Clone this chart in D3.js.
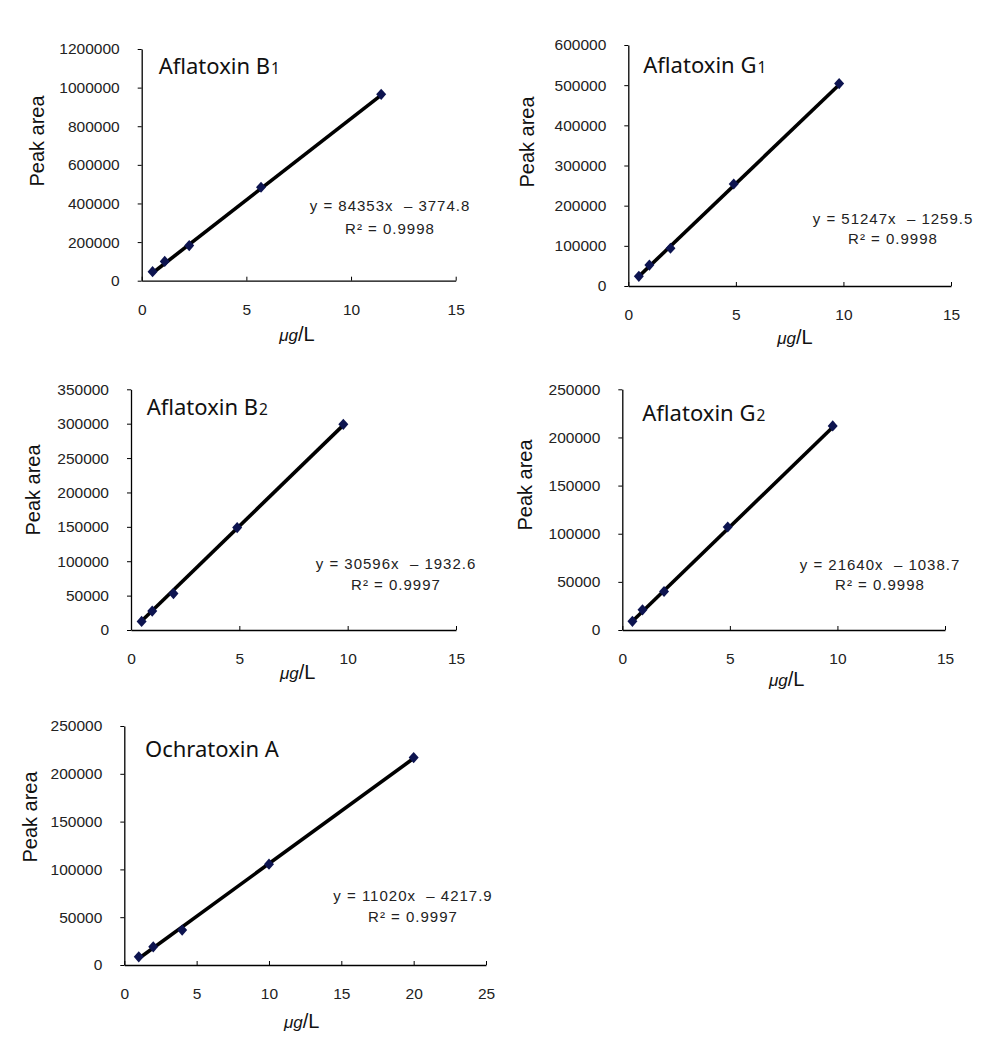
<!DOCTYPE html>
<html>
<head>
<meta charset="utf-8">
<script src="https://cdn.jsdelivr.net/npm/d3@7"></script>
<style>
  html, body { margin: 0; padding: 0; background: #fff; }
  svg { display: block; }
  .tick text { font-family: "Liberation Sans", Arial, sans-serif; font-size: 15.5px; fill: #222; }
</style>
</head>
<body>
<svg id="chart" width="1006" height="1042"></svg>
<script>
// ---------- data ----------
const titles      = ["Aflatoxin B", "Aflatoxin G", "Aflatoxin B", "Aflatoxin G", "Ochratoxin A"];
const titleSubs   = ["1", "1", "2", "2", ""];
const equations   = ["y = 84353x  \u2013 3774.8", "y = 51247x  \u2013 1259.5", "y = 30596x  \u2013 1932.6", "y = 21640x  \u2013 1038.7", "y = 11020x  \u2013 4217.9"];
const r2Labels    = ["R\u00B2 = 0.9998", "R\u00B2 = 0.9998", "R\u00B2 = 0.9997", "R\u00B2 = 0.9998", "R\u00B2 = 0.9997"];
const slopes      = [84353, 51247, 30596, 21640, 11020];
const intercepts  = [-3774.8, -1259.5, -1932.6, -1038.7, -4217.9];

const xB1 = [0.52, 1.1, 2.27, 5.7, 11.44];
const yB1 = [47000, 100000, 182000, 484000, 965000];
const xG1 = [0.49, 0.98, 1.96, 4.9, 9.8];
const yG1 = [24000, 52000, 94000, 254000, 504000];
const xB2 = [0.49, 0.98, 1.96, 4.9, 9.8];
const yB2 = [12500, 27500, 53000, 149000, 299000];
const xG2 = [0.47, 0.94, 1.94, 4.9, 9.78];
const yG2 = [9000, 21000, 40000, 107000, 212000];
const xOTA = [1, 2, 4, 10, 20];
const yOTA = [8500, 19000, 36500, 105500, 217000];
const xSeries = [xB1, xG1, xB2, xG2, xOTA];
const ySeries = [yB1, yG1, yB2, yG2, yOTA];

const xMaxes  = [15, 15, 15, 15, 25];
const xTicks  = [[0,5,10,15],[0,5,10,15],[0,5,10,15],[0,5,10,15],[0,5,10,15,20,25]];
const yMaxes  = [1200000, 600000, 350000, 250000, 250000];
const yStep   = [200000, 100000, 50000, 50000, 50000];
const yAxisLabel = "Peak area";
const xAxisUnit1 = "\u03BCg";
const xAxisUnit2 = "/L";

// ---------- layout (pixel geometry of each panel) ----------
const layout = [
  {l:141.7, r:455.7, t:49,    b:280.7, tx:17,   ty:25, py:141, px:37,  ux:297,   uy:341, ex:390, ey:206, ry:229},
  {l:628.3, r:951,   t:45,    b:286,   tx:15,   ty:28, py:142, px:527, ux:795,   uy:344, ex:893, ey:219, ry:239},
  {l:131,   r:456,   t:389.3, b:630,   tx:15.7, ty:26, py:490, px:33,  ux:297.7, uy:679, ex:396, ey:564, ry:585},
  {l:622.3, r:945,   t:389.3, b:630,   tx:20,   ty:32, py:485, px:525, ux:786.7, uy:686, ex:880, ey:565, ry:585},
  {l:124.3, r:486,   t:726,   b:965,   tx:20.7, ty:31, py:817, px:30,  ux:301.7, uy:1028, ex:413, ey:896, ry:917}
];

const svg = d3.select("#chart");
svg.append("rect").attr("width", 1006).attr("height", 1042).attr("fill", "#fff");

const diamond = "M0,-5.6L5,0L0,5.6L-5,0Z";

layout.forEach((L, i) => {
  const g = svg.append("g");
  const x = d3.scaleLinear().domain([0, xMaxes[i]]).range([L.l, L.r]);
  const y = d3.scaleLinear().domain([0, yMaxes[i]]).range([L.b, L.t]);

  // y axis
  const yAxis = d3.axisLeft(y)
    .tickValues(d3.range(0, yMaxes[i] + 1, yStep[i]))
    .tickFormat(d3.format("d"))
    .tickSizeInner(4).tickSizeOuter(0).tickPadding(18);
  const ya = g.append("g").attr("transform", `translate(${L.l},0)`).call(yAxis);
  ya.select(".domain").attr("stroke", "#000").attr("stroke-width", 1.3);
  ya.selectAll(".tick line").attr("stroke", "#000");

  // x axis (ticks point inward)
  const xAxis = d3.axisBottom(x)
    .tickValues(xTicks[i])
    .tickFormat(d3.format("d"))
    .tickSizeInner(-4).tickSizeOuter(0);
  const xa = g.append("g").attr("transform", `translate(0,${L.b})`).call(xAxis);
  xa.select(".domain").attr("stroke", "#000").attr("stroke-width", 1.3);
  xa.selectAll(".tick line").attr("stroke", "#000");
  xa.selectAll(".tick text").attr("y", 29).attr("dy", "0.35em");

  // trend line over data range
  const xs = xSeries[i], ys = ySeries[i];
  const x0 = d3.min(xs), x1 = d3.max(xs);
  const lineData = [x0, x1].map(v => [v, slopes[i] * v + intercepts[i]]);
  g.append("path")
    .attr("d", d3.line().x(d => x(d[0])).y(d => y(d[1]))(lineData))
    .attr("stroke", "#000").attr("stroke-width", 3.6).attr("fill", "none");

  // markers
  g.selectAll("path.pt").data(xs.map((v, k) => [v, ys[k]])).enter()
    .append("path").attr("class", "pt")
    .attr("d", diamond)
    .attr("transform", d => `translate(${x(d[0])},${y(d[1])})`)
    .attr("fill", "#0d1450");

  // title
  const t = g.append("text")
    .attr("x", L.l + L.tx).attr("y", L.t + L.ty)
    .attr("font-family", "'Noto Sans', 'Open Sans', sans-serif")
    .attr("font-size", 22).attr("fill", "#111");
  t.append("tspan").text(titles[i]);
  if (titleSubs[i]) t.append("tspan").attr("font-size", 15.5).attr("dx", 1).text(titleSubs[i]);

  // y label
  g.append("text")
    .attr("transform", `translate(${L.px},${L.py}) rotate(-90)`)
    .attr("text-anchor", "middle").attr("dy", "0.35em")
    .attr("font-family", "'Liberation Sans', Arial, sans-serif")
    .attr("font-size", 20).attr("fill", "#111")
    .text(yAxisLabel);

  // x label
  const u = g.append("text")
    .attr("x", L.ux).attr("y", L.uy).attr("text-anchor", "middle")
    .attr("font-family", "'Liberation Sans', Arial, sans-serif").attr("fill", "#111");
  u.append("tspan").attr("font-size", 17).attr("font-style", "italic").text(xAxisUnit1);
  u.append("tspan").attr("font-size", 20).text(xAxisUnit2);

  // equation + R2
  g.append("text")
    .attr("x", L.ex).attr("y", L.ey).attr("dy", "0.35em").attr("text-anchor", "middle")
    .attr("font-family", "'Liberation Sans', Arial, sans-serif")
    .attr("font-size", 15).attr("letter-spacing", 1).attr("fill", "#222")
    .style("white-space", "pre")
    .text(equations[i]);
  g.append("text")
    .attr("x", L.ex).attr("y", L.ry).attr("dy", "0.35em").attr("text-anchor", "middle")
    .attr("font-family", "'Liberation Sans', Arial, sans-serif")
    .attr("font-size", 15).attr("letter-spacing", 1).attr("fill", "#222")
    .style("white-space", "pre")
    .text(r2Labels[i]);
});
</script>
</body>
</html>
